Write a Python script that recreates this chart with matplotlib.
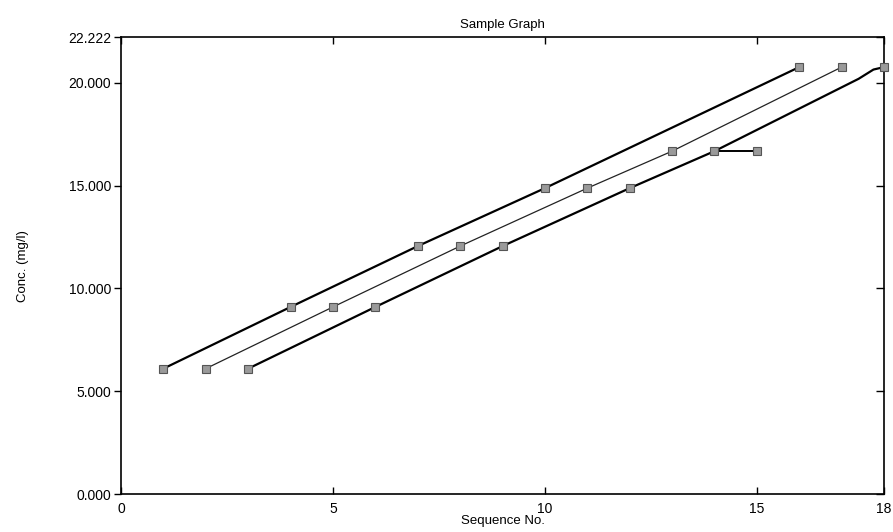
import matplotlib.pyplot as plt

plt.rcParams['font.family'] = ['Liberation Sans', 'DejaVu Sans']

# sample positions and concentrations
line_a_x = [1, 4, 7, 10, 16]
line_a_y = [6.1, 9.1, 12.06, 14.88, 20.77]
line_b_x = [2, 5, 8, 11, 13, 17]
line_b_y = [6.1, 9.1, 12.06, 14.88, 16.68, 20.77]
line_c_x = [3, 6, 9, 12, 14, 17.4, 17.75, 18]
line_c_y = [6.1, 9.1, 12.06, 14.88, 16.68, 20.2, 20.65, 20.77]
seg_x = [14, 15]
seg_y = [16.68, 16.68]

point_x = list(range(1, 19))
point_y = [6.1, 6.1, 6.1, 9.1, 9.1, 9.1, 12.06, 12.06, 12.06,
           14.88, 14.88, 14.88, 16.68, 16.68, 16.68, 20.77, 20.77, 20.77]

y_ticks = [0, 5, 10, 15, 20, 22.222]
x_ticks = [0, 5, 10, 15, 18]

fig = plt.figure(figsize=(8.93, 5.32), dpi=100)
ax = fig.add_axes([0.1355, 0.0714, 0.8545, 0.8586])

ax.plot(line_a_x, line_a_y, color='black', lw=1.6)
ax.plot(line_b_x, line_b_y, color='#222222', lw=0.9)
ax.plot(line_c_x, line_c_y, color='black', lw=1.6)
ax.plot(seg_x, seg_y, color='black', lw=1.4)
ax.plot(point_x, point_y, ls='none', marker='s', markersize=5.5,
        markerfacecolor='#9a9a9a', markeredgecolor='#555555', markeredgewidth=0.8,
        clip_on=False, zorder=3)

ax.set_xlim(0, 18)
ax.set_ylim(0, 22.222)
ax.set_xticks(x_ticks)
ax.set_xticklabels([str(v) for v in x_ticks], fontsize=10)
ax.set_yticks(y_ticks)
ax.set_yticklabels(['%.3f' % v for v in y_ticks], fontsize=10)

ax.tick_params(axis='x', direction='in', top=True, length=5, width=1, pad=6)
ax.tick_params(axis='y', direction='out', length=5, width=1, pad=2)
ax.tick_params(axis='y', which='major', right=True)
for t in ax.yaxis.get_ticklines()[1::2]:
    t.set_marker(0)  # right ticks point inward
    t.set_markersize(6)

for s in ax.spines.values():
    s.set_linewidth(1.2)

ax.set_title('Sample Graph', fontsize=9.5, pad=7)
ax.set_xlabel('Sequence No.', fontsize=9.5, labelpad=-1)
ax.set_ylabel('Conc. (mg/l)', fontsize=9.5, labelpad=28)

fig.savefig('out.png', dpi=100)
